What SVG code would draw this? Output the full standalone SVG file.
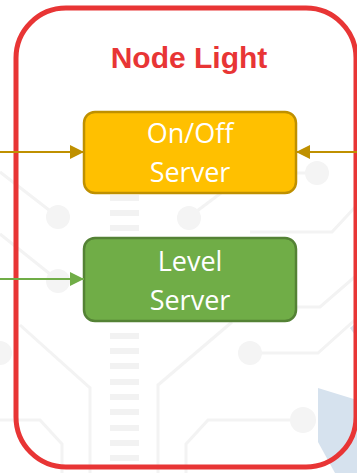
<svg xmlns="http://www.w3.org/2000/svg" width="357" height="473" viewBox="0 0 357 473">
  <style>
    .trace { fill: none; stroke: #F3F3F3; stroke-width: 3; }
    .pad { fill: #F4F4F4; }
    .dash { fill: #F2F2F2; }
    .title { font-family: "Liberation Sans", Arial, sans-serif; font-weight: bold; font-size: 30px; fill: #E83535; text-anchor: middle; }
    .label { font-family: "Open Sans", "Liberation Sans", sans-serif; font-size: 27px; fill: #FFFFFF; text-anchor: middle; }
    .box { stroke-width: 2.5; }
  </style>
  <defs>
    <marker id="arrowGold" viewBox="0 0 10 10" refX="10" refY="5" markerWidth="7" markerHeight="7.5" markerUnits="strokeWidth" orient="auto">
      <path d="M0,0 L10,5 L0,10 Z" fill="#BF9000"/>
    </marker>
    <marker id="arrowGreen" viewBox="0 0 10 10" refX="10" refY="5" markerWidth="7" markerHeight="7.5" markerUnits="strokeWidth" orient="auto">
      <path d="M0,0 L10,5 L0,10 Z" fill="#70AD47"/>
    </marker>
  </defs>

  <rect width="357" height="473" fill="#FFFFFF"/>

  <!-- faint circuit-board backdrop -->
  <g id="backdrop">
    <path class="trace" d="M0,172 L58,217"/>
    <path class="trace" d="M0,234 L50,274"/>
    <path class="trace" d="M296,173 L317,173"/>
    <path class="trace" d="M189,217 L225,190"/>
    <path class="trace" d="M357,205 L332,232 L250,232"/>
    <path class="trace" d="M357,275 L320,307 L250,307"/>
    <path class="trace" d="M20,325 L90,388 L90,473"/>
    <path class="trace" d="M232,322 L158,385 L158,473"/>
    <path class="trace" d="M250,353 L318,353 L357,318"/>
    <path class="trace" d="M303,420 L208,420 L186,444 L186,473"/>
    <path class="trace" d="M0,420 L40,420 L62,444 L62,473"/>
    <circle class="pad" cx="58" cy="217" r="12"/>
    <circle class="pad" cx="58" cy="281" r="12"/>
    <circle class="pad" cx="189" cy="218" r="12"/>
    <circle class="pad" cx="317" cy="173" r="12"/>
    <circle class="pad" cx="250" cy="353" r="12"/>
    <circle class="pad" cx="303" cy="420" r="13"/>
    <circle class="pad" cx="0" cy="353" r="12"/>
    <rect class="dash" x="110" y="195" width="29" height="6"/>
    <rect class="dash" x="110" y="210" width="29" height="6"/>
    <rect class="dash" x="110" y="225" width="29" height="6"/>
    <rect class="dash" x="110" y="333" width="29" height="6"/>
    <rect class="dash" x="110" y="348" width="29" height="6"/>
    <rect class="dash" x="110" y="363" width="29" height="6"/>
    <rect class="dash" x="110" y="379" width="29" height="6"/>
    <rect class="dash" x="110" y="394" width="29" height="6"/>
    <rect class="dash" x="110" y="409" width="29" height="6"/>
    <rect class="dash" x="110" y="425" width="29" height="6"/>
    <rect class="dash" x="110" y="440" width="29" height="6"/>
    <rect class="dash" x="110" y="455" width="29" height="6"/>
    <path d="M318,388 L357,400 L357,473 L335,473 L318,442 Z" fill="#D6E2EE"/>
    <path d="M350,328 L357,322 L357,338 Z" fill="#D6E2EE"/>
  </g>

  <!-- device outline -->
  <g id="node-light">
    <rect x="16" y="8" width="340" height="459" rx="50" ry="50" fill="none" stroke="#E83535" stroke-width="5"/>
    <text class="title" x="189" y="68">Node Light</text>
  </g>

  <g id="onoff-server">
    <rect class="box" x="84" y="112" width="212" height="81" rx="11" fill="#FFC000" stroke="#BF9000"/>
    <text class="label" x="190" y="143">On/Off</text>
    <text class="label" x="190" y="182">Server</text>
  </g>

  <g id="level-server">
    <rect class="box" x="84" y="238" width="212" height="83" rx="11" fill="#70AD47" stroke="#548235"/>
    <text class="label" x="190" y="271">Level</text>
    <text class="label" x="190" y="310">Server</text>
  </g>

  <g id="connectors">
    <line x1="0" y1="152" x2="84" y2="152" stroke="#BF9000" stroke-width="2" marker-end="url(#arrowGold)"/>
    <line x1="357" y1="152" x2="296" y2="152" stroke="#BF9000" stroke-width="2" marker-end="url(#arrowGold)"/>
    <line x1="0" y1="279" x2="84" y2="279" stroke="#70AD47" stroke-width="2" marker-end="url(#arrowGreen)"/>
  </g>
</svg>
